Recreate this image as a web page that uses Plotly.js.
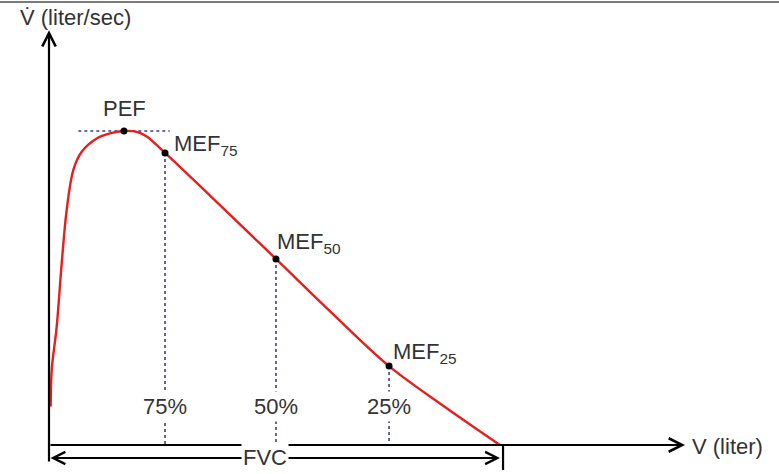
<!DOCTYPE html>
<html>
<head>
<meta charset="utf-8">
<script src="https://cdn.plot.ly/plotly-3.0.1.min.js"></script>
<style>html,body{margin:0;padding:0;background:#fff;}#chart{width:779px;height:474px;}</style>
</head>
<body>
<div id="chart"></div>
<script>
// Flow-volume curve (volume in liters, flow in liter/sec)
const volume = [0.015, 0.024, 0.068, 0.113, 0.157, 0.216, 0.290, 0.423, 0.541, 0.665, 0.778, 0.867, 1.029, 1.517, 2.013, 2.510, 3.016, 3.512, 4.0];
const flow   = [0.98, 1.91, 3.01, 4.64, 5.99, 7.01, 7.47, 7.81, 7.94, 8.00, 7.98, 7.86, 7.44, 6.11, 4.74, 3.36, 2.01, 0.97, 0];

const pefVolume = 0.665;
const pefFlow = 8.0;
const pefLabel = 'PEF';

const mefVolume = [1.029, 2.013, 3.016];
const mefFlow = [7.44, 4.74, 2.01];
const mefLabels = ['MEF<sub>75</sub>', 'MEF<sub>50</sub>', 'MEF<sub>25</sub>'];
const pctLabels = ['75%', '50%', '25%'];

const fvc = 4.0;
const fvcLabel = 'FVC';
const xAxisLabel = 'V (liter)';
const yAxisLabel = 'V\u0307 (liter/sec)';

// ---- styling / layout helpers ----
const RED = '#e3201e';
const DASH = '#3d3d8f';
const TXT = '#333333';
const FONT = {family: 'Liberation Sans, Arial, sans-serif', size: 22, color: TXT};

const xMin = -0.4346, xMax = 6.4745;
const yMin = -0.7389, yMax = 11.338;

const traces = [];

// PEF horizontal dashed line
traces.push({
  x: [0.26, 1.07], y: [pefFlow, pefFlow], mode: 'lines',
  line: {color: DASH, width: 1.6, dash: '3px,3px'}, hoverinfo: 'skip'
});
// vertical dashed lines at MEF points
mefVolume.forEach((v, i) => {
  traces.push({
    x: [v, v], y: [mefFlow[i], 0], mode: 'lines',
    line: {color: DASH, width: 1.6, dash: '3px,3px'}, hoverinfo: 'skip'
  });
});
// curve
traces.push({
  x: volume, y: flow, mode: 'lines',
  line: {color: RED, width: 2.4, shape: 'spline', smoothing: 1.0}, hoverinfo: 'skip'
});
// dots
traces.push({
  x: [pefVolume].concat(mefVolume), y: [pefFlow].concat(mefFlow), mode: 'markers',
  marker: {color: '#000', size: 7}, hoverinfo: 'skip'
});

const annotations = [];
// y axis arrow
annotations.push({x: 0, y: 10.57, ax: 0, ay: -0.46, xref: 'x', yref: 'y', axref: 'x', ayref: 'y',
  text: '', showarrow: true, arrowhead: 5, arrowsize: 1.2, arrowwidth: 2.2, arrowcolor: '#000', standoff: 0});
// x axis arrow
annotations.push({x: 5.641, y: 0, ax: 0, ay: 0, xref: 'x', yref: 'y', axref: 'x', ayref: 'y',
  text: '', showarrow: true, arrowhead: 5, arrowsize: 1.2, arrowwidth: 2.2, arrowcolor: '#000', standoff: 0});
// FVC double arrow
annotations.push({x: fvc, y: -0.331, ax: 0, ay: -0.331, xref: 'x', yref: 'y', axref: 'x', ayref: 'y',
  text: '', showarrow: true, arrowhead: 5, startarrowhead: 5, arrowside: 'end+start',
  arrowsize: 1.2, startarrowsize: 1.2, arrowwidth: 2, arrowcolor: '#000', standoff: 0, startstandoff: 0});
// FVC label
annotations.push({x: 1.916, y: -0.331, xref: 'x', yref: 'y', text: fvcLabel, showarrow: false,
  font: FONT, bgcolor: '#fff', borderpad: 1, xanchor: 'center', yanchor: 'middle'});
// axis labels
annotations.push({x: 5.685, y: -0.05, xref: 'x', yref: 'y', text: xAxisLabel, showarrow: false,
  font: FONT, xanchor: 'left', yanchor: 'middle'});
annotations.push({x: -0.275, y: 10.88, xref: 'x', yref: 'y', text: yAxisLabel, showarrow: false,
  font: FONT, xanchor: 'left', yanchor: 'middle'});
// PEF label
annotations.push({x: pefVolume, y: pefFlow, xref: 'x', yref: 'y', text: pefLabel, showarrow: false,
  font: FONT, xanchor: 'center', yanchor: 'middle', yshift: 23, xshift: 1});
// MEF labels
const mefShift = [[7, 8], [-1, 16], [2, 13]];
mefVolume.forEach((v, i) => {
  annotations.push({x: v, y: mefFlow[i], xref: 'x', yref: 'y', text: mefLabels[i], showarrow: false,
    font: FONT, xanchor: 'left', yanchor: 'middle', xshift: mefShift[i][0], yshift: mefShift[i][1]});
  annotations.push({x: v, y: 0.98, xref: 'x', yref: 'y', text: pctLabels[i], showarrow: false,
    font: FONT, bgcolor: '#fff', borderpad: 2, xanchor: 'center', yanchor: 'middle'});
});

const shapes = [
  // tick at the end of FVC
  {type: 'line', xref: 'x', yref: 'y', x0: 4.027, x1: 4.027, y0: 0, y1: -0.637, line: {color: '#000', width: 2.2}},
  // top border
  {type: 'line', xref: 'paper', yref: 'paper', x0: 0, x1: 1, y0: 1 - 2/474, y1: 1 - 2/474, line: {color: '#7a7a7a', width: 2}}
];

const layout = {
  width: 779, height: 474,
  margin: {l: 0, r: 0, t: 0, b: 0},
  paper_bgcolor: '#fff', plot_bgcolor: '#fff',
  showlegend: false,
  xaxis: {range: [xMin, xMax], visible: false, fixedrange: true},
  yaxis: {range: [yMin, yMax], visible: false, fixedrange: true},
  annotations: annotations,
  shapes: shapes,
  font: FONT
};

Plotly.newPlot('chart', traces, layout, {displayModeBar: false, staticPlot: true});
</script>
</body>
</html>
